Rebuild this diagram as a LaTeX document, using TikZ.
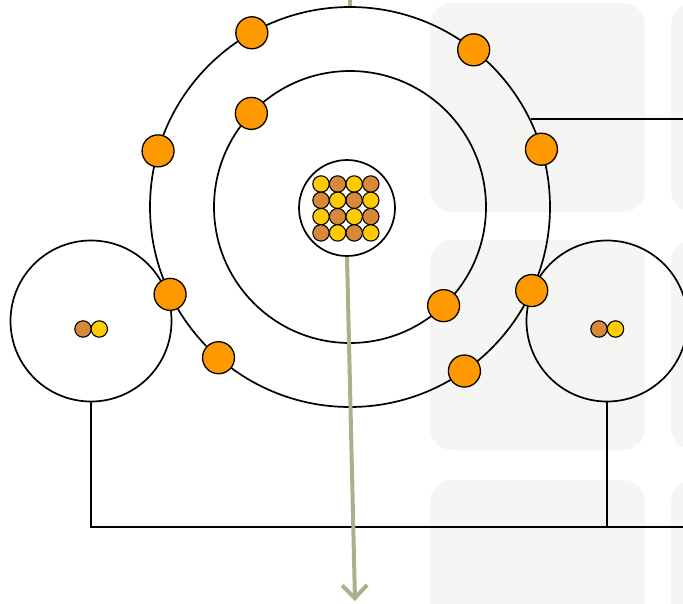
\documentclass[tikz,border=0pt]{standalone}
\usetikzlibrary{arrows.meta}
\definecolor{elec}{HTML}{FF9900}
\definecolor{prot}{HTML}{FFCC00}
\definecolor{neut}{HTML}{D68A38}
\definecolor{beam}{HTML}{A8B08C}
\definecolor{panel}{HTML}{F5F5F4}
\begin{document}
\begin{tikzpicture}[x=1pt,y=-1pt,line width=1.7pt,
    orbit/.style={circle,draw,inner sep=0pt},
    electron/.style={circle,draw,fill=elec,line width=1.3pt,minimum size=32pt,inner sep=0pt},
    proton/.style={circle,draw,fill=prot,line width=1.1pt,minimum size=16.4pt,inner sep=0pt},
    neutron/.style={proton,fill=neut}]
    \useasboundingbox (0,0) rectangle (683,603);
    % faint panels behind
    \foreach \y/\h in {3/209,240/210,480/160}{
        \fill[panel,rounded corners=22pt] (430,\y) rectangle +(215,\h);
        \fill[panel,rounded corners=22pt] (671,\y) rectangle +(80,\h);
    }
    % atom
    \node[orbit,minimum size=400pt] (outer) at (350,207) {};
    \node[orbit,minimum size=272pt] (inner) at (350,207) {};
    \node[orbit,minimum size=96pt] (nucleus) at (347,208) {};
    \foreach \i in {0,...,3}
        \foreach \j in {0,...,3}{
            \pgfmathtruncatemacro\k{mod(\i+\j,2)}
            \ifnum\k=0 \def\kind{proton}\else\def\kind{neutron}\fi
            \node[\kind] (n\i\j) at (321+16.6*\i,184+16.3*\j) {};
        }
    % two small atoms
    \node[orbit,minimum size=161pt] (hleft) at (91,321) {};
    \node[neutron] (hlefta) at (83,329) {};
    \node[proton] (hleftb) at (99.3,329) {};
    \node[orbit,minimum size=161pt] (hright) at (607,321) {};
    \node[neutron] (hrighta) at (599,329) {};
    \node[proton] (hrightb) at (615.5,329) {};
    % wiring
    \coordinate (top) at (350,0);
    \coordinate (ground) at (355,601);
    \coordinate (tapend) at (683,118);
    \coordinate (busend) at (683,527);
    \draw (outer.26.3) -- (outer.26.3 -| tapend);
    \draw (hleft.south) |- (busend);
    \draw (hright.south) -- (hright.south |- busend);
    \draw[beam,line width=4pt] (top) -- (outer.north);
    \draw[beam,line width=4pt,-{Straight Barb[length=13pt,width=25pt]}] (nucleus.south) -- (ground);
    % electrons
    \foreach \a [count=\n] in {240.6,308.2,343.2,196.3,154.1,131.1,24.7,55.1}
        \node[electron] (eo\n) at ([shift={(\a:200)}]outer.center) {};
    \foreach \a [count=\n] in {223.5,46.5}
        \node[electron] (ei\n) at ([shift={(\a:136)}]inner.center) {};
\end{tikzpicture}
\end{document}
